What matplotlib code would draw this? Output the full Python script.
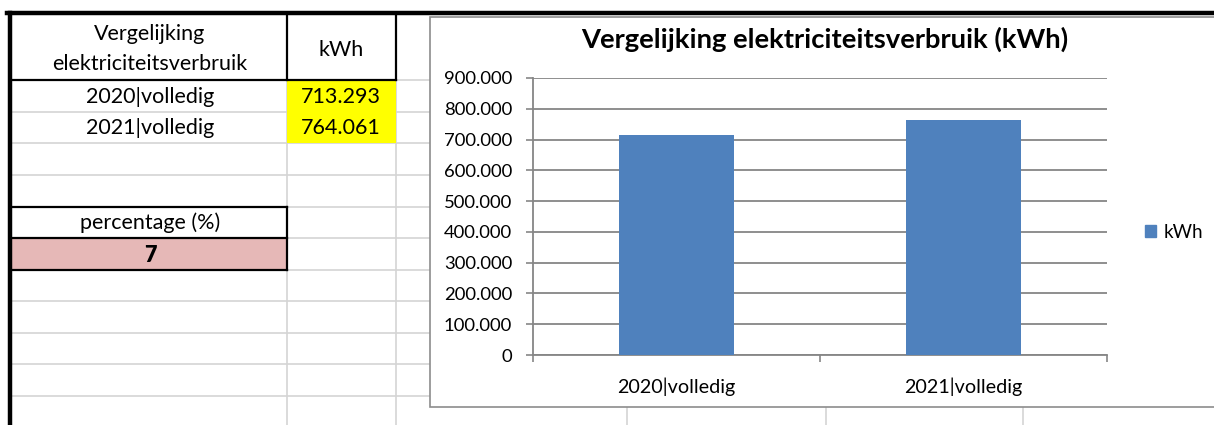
import matplotlib
matplotlib.use("Agg")
from matplotlib import pyplot as plt
from matplotlib.patches import Rectangle
from matplotlib.ticker import FuncFormatter

# data
categories = ["2020|volledig", "2021|volledig"]
kwh = [713293, 764061]
kwh_labels = ["713.293", "764.061"]
series_name = "kWh"
title = "Vergelijking elektriciteitsverbruik (kWh)"
percentage = "7"

plt.rcParams['font.family'] = ['Lato', 'DejaVu Sans']

W, H = 1214, 425
fig = plt.figure(figsize=(W / 100, H / 100), dpi=100)

# spreadsheet background, pixel coordinates
bg = fig.add_axes([0, 0, 1, 1])
bg.set_xlim(0, W)
bg.set_ylim(H, 0)
bg.axis('off')

grid_col = '#d4d4d4'
rows = [80, 112, 143, 175, 207, 238, 270, 301, 333, 364, 396]
for y in rows:
    bg.plot([12, 430], [y, y], color=grid_col, lw=1.2, zorder=1)
for x in [287, 396]:
    bg.plot([x, x], [80, H], color=grid_col, lw=1.2, zorder=1)
for x in [627, 826, 1023]:
    bg.plot([x, x], [407, H], color=grid_col, lw=1.2, zorder=1)

# filled cells
bg.add_patch(Rectangle((287, 80), 109, 63, facecolor='#ffff00', edgecolor='none', zorder=2))
bg.add_patch(Rectangle((12, 238), 275, 32, facecolor='#e6b8b7', edgecolor='none', zorder=2))

# black cell borders
blk = dict(color='black', lw=1.6, zorder=3)
bg.plot([12, 396], [80, 80], **blk)
bg.plot([287, 287], [15, 80], **blk)
bg.plot([396, 396], [15, 80], **blk)
bg.plot([12, 287], [207, 207], **blk)
bg.plot([12, 287], [238, 238], **blk)
bg.plot([12, 287], [270, 270], **blk)
bg.plot([287, 287], [207, 270], **blk)
bg.plot([7, W], [13, 13], color='black', lw=3.2, zorder=4)
bg.plot([9.5, 9.5], [13, H], color='black', lw=3.2, zorder=4)

# cell texts
fs = 15.5
bg.text(150, 34, "Vergelijking", ha='center', va='center', fontsize=fs, zorder=5)
bg.text(150, 64, "elektriciteitsverbruik", ha='center', va='center', fontsize=fs, zorder=5)
bg.text(341, 50, series_name, ha='center', va='center', fontsize=fs, zorder=5)
for i, (c, v) in enumerate(zip(categories, kwh_labels)):
    bg.text(150, 97 + 31 * i, c, ha='center', va='center', fontsize=fs, zorder=5)
    bg.text(341, 97 + 31 * i, v, ha='center', va='center', fontsize=fs, zorder=5)
bg.text(150, 223, "percentage (%)", ha='center', va='center', fontsize=fs, zorder=5)
bg.text(150, 255, percentage, ha='center', va='center', fontsize=fs, fontweight='heavy', zorder=5)

# chart area
bg.add_patch(Rectangle((430, 17), 800, 390, facecolor='white', edgecolor='#8c8c8c', lw=1.2, zorder=6))

ax = fig.add_axes([533 / W, (H - 355) / H, (1107 - 533) / W, (355 - 78) / H])
ax.set_zorder(7)
x = list(range(len(categories)))
ax.bar(x, kwh, width=0.4, color='#4f81bd', zorder=3, label=series_name)
ax.set_xlim(-0.5, len(categories) - 0.5)
ax.set_ylim(0, 900000)
ax.set_yticks(range(0, 900001, 100000))
ax.yaxis.set_major_formatter(FuncFormatter(lambda v, p: f"{int(v):,}".replace(',', '.')))
ax.yaxis.grid(True, color='#868686', lw=1.3, zorder=0)
ax.set_axisbelow(True)
ax.set_xticks([-0.5, 0.5, 1.5])
ax.set_xticklabels([])
ax.set_xticks(x, minor=True)
ax.set_xticklabels(categories, minor=True)
ax.tick_params(axis='x', which='major', length=5, color='#868686', width=1.2)
ax.tick_params(axis='x', which='minor', length=0, pad=16, labelsize=14.2)
ax.tick_params(axis='y', length=5, color='#868686', width=1.2, labelsize=13.3, pad=10)
for s in ['top', 'right']:
    ax.spines[s].set_visible(False)
for s in ['left', 'bottom']:
    ax.spines[s].set_color('#868686')
    ax.spines[s].set_linewidth(1.3)
ax.patch.set_alpha(0)

fig.text(825 / W, 1 - 39 / H, title, ha='center', va='center', fontsize=19.7, fontweight='bold', zorder=8)
fig.legend(handles=[Rectangle((0, 0), 1, 1, color='#4f81bd')], labels=[series_name],
           loc='center left', bbox_to_anchor=(1128 / W, 1 - 232 / H), frameon=False,
           fontsize=13.5, handlelength=0.6, handleheight=0.6, handletextpad=0.4)

fig.savefig("out.png", dpi=100)
